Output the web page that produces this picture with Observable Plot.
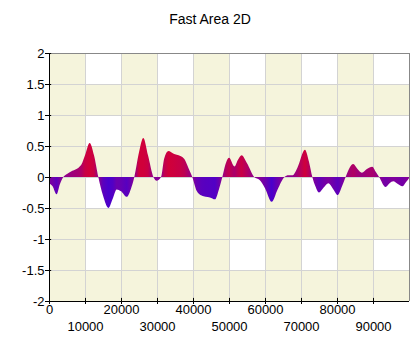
<!DOCTYPE html>
<html><head><meta charset="utf-8">
<script src="https://cdn.jsdelivr.net/npm/d3@7"></script>
<script src="https://cdn.jsdelivr.net/npm/@observablehq/plot@0.6"></script>
<style>
body{margin:0;background:#fff;width:420px;height:360px;overflow:hidden;font-family:"Liberation Sans",Arial,sans-serif}
#title{height:40px;box-sizing:border-box;padding-top:11px;text-align:center;font-size:14px;line-height:16px;color:#000}
</style></head><body>
<div id="title"></div>
<div id="chart"></div>
<script>
const title = "Fast Area 2D";
const xValues = [0,1000,2100,3000,3970,5000,6500,8200,9000,10000,11300,12500,13700,15000,16500,17700,18800,20000,21600,22700,23700,25000,26200,27500,29000,29900,31100,32000,33200,34500,35500,36500,37600,38700,39800,41000,42400,43500,44700,46100,47200,48150,49000,50000,51500,52500,53500,55000,57000,58500,60000,61850,63500,65400,66500,67700,69000,71100,72200,73150,74000,75000,76300,77600,79000,80200,81400,82400,83500,84500,85700,86900,88300,89800,90800,91700,93500,94600,95650,96800,98150,99200,100000];
const yValues = [-0.10,-0.15,-0.28,-0.12,0,0.05,0.10,0.15,0.20,0.35,0.55,0.35,0,-0.30,-0.50,-0.35,-0.20,-0.23,-0.32,-0.20,0,0.40,0.63,0.35,0,-0.06,0,0.30,0.42,0.38,0.36,0.34,0.29,0.15,0,-0.22,-0.30,-0.32,-0.33,-0.36,-0.20,0,0.20,0.31,0.17,0.28,0.35,0.22,0,-0.05,-0.18,-0.40,-0.20,0,0.03,0.03,0.15,0.44,0.25,0,-0.15,-0.25,-0.17,-0.10,-0.20,-0.29,-0.15,0,0.15,0.21,0.13,0.07,0.13,0.165,0.08,0,-0.16,-0.10,-0.07,-0.11,-0.15,-0.08,-0.02];
const xTicks = [0,10000,20000,30000,40000,50000,60000,70000,80000,90000];
const xMax = 100000;
const yTicks = [-2,-1.5,-1,-0.5,0,0.5,1,1.5,2];

document.getElementById("title").textContent = title;

const W = 420, H = 320, ML = 49, MR = 11, MT = 13, MB = 59;
const data = xValues.map((x, i) => ({x, y: yValues[i]}));
const colBands = xTicks.filter((d, i) => i % 2 === 0).map(d => ({x1: d, x2: d + (xTicks[1] - xTicks[0])}));
const rowBands = yTicks.slice(0, -1).filter((d, i) => i % 2 === 0).map(d => ({y1: d, y2: d + (yTicks[1] - yTicks[0])}));
const beige = "#f5f4dc";
const color = d3.scaleLinear().domain([-0.4, 0, 0.4]).range(["#4a00cc", "#8c0090", "#d0003a"]).clamp(true);

const plot = Plot.plot({
  width: W, height: H,
  marginLeft: ML, marginRight: MR, marginTop: MT, marginBottom: MB,
  style: {fontSize: "13px", fontFamily: "'Liberation Sans', Arial, sans-serif", background: "#fff", color: "#000"},
  x: {domain: [0, xMax], ticks: xTicks, tickSize: 3, tickFormat: () => "", label: null},
  y: {domain: [yTicks[0], yTicks[yTicks.length - 1]], ticks: yTicks, tickSize: 4, tickPadding: 1, tickFormat: d => String(d), label: null},
  marks: [
    Plot.rect(colBands, {x1: "x1", x2: "x2", y1: yTicks[0], y2: yTicks[yTicks.length - 1], fill: beige}),
    Plot.rect(rowBands, {x1: 0, x2: xMax, y1: "y1", y2: "y2", fill: beige}),
    Plot.ruleX(xTicks.slice(1), {stroke: "#d3d3d3"}),
    Plot.ruleY(yTicks, {stroke: "#d3d3d3"}),
    Plot.areaY(data, {x: "x", y1: 0, y2: "y", curve: "monotone-x", fill: "purple"}),
    Plot.ruleY([yTicks[yTicks.length - 1]], {stroke: "#888"}),
    Plot.ruleX([xMax], {stroke: "#888"}),
    Plot.ruleX([0], {stroke: "#000"}),
    Plot.ruleY([yTicks[0]], {stroke: "#000"}),
    Plot.ruleX(xTicks, {y1: yTicks[0], y2: yTicks[0] + 0.05, stroke: "#000"}),
    Plot.ruleY(yTicks, {x1: 0, x2: 600, stroke: "#000"}),
    Plot.text(xTicks.filter((d, i) => i % 2 === 0), {x: d => d, text: d => String(d), frameAnchor: "bottom", dy: 12.7, fontSize: 13, fill: "#000"}),
    Plot.text(xTicks.filter((d, i) => i % 2 === 1), {x: d => d, text: d => String(d), frameAnchor: "bottom", dy: 29, fontSize: 13, fill: "#000"})
  ]
});
document.getElementById("chart").appendChild(plot);

const svg = d3.select(plot);
const defs = svg.insert("defs", ":first-child");
const grad = defs.append("linearGradient").attr("id", "areaGrad")
  .attr("gradientUnits", "userSpaceOnUse")
  .attr("x1", ML).attr("x2", W - MR).attr("y1", 0).attr("y2", 0);
data.forEach(d => grad.append("stop").attr("offset", d.x / xMax).attr("stop-color", color(d.y)));
svg.selectAll('g[aria-label="area"]').attr("fill", "url(#areaGrad)");
svg.selectAll('g[aria-label="area"] path').attr("fill", "url(#areaGrad)");
</script>
</body></html>
